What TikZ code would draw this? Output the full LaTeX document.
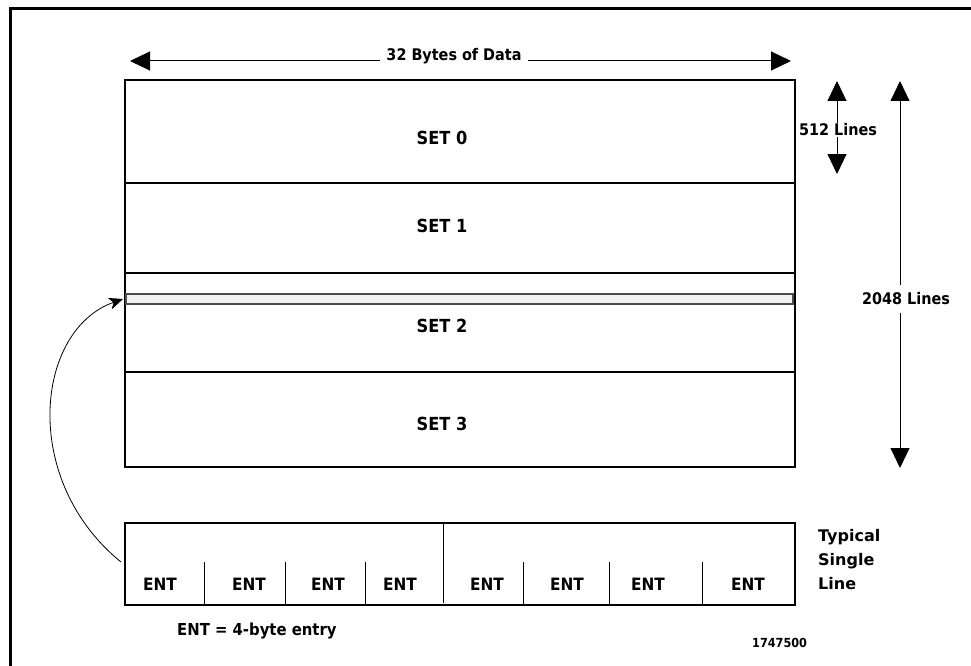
\documentclass[tikz,border=0pt]{standalone}
\usepackage{fontspec}
\setmainfont{DejaVu Sans Condensed}
\newfontfamily\widefont{DejaVu Sans}
\usetikzlibrary{arrows.meta}
\begin{document}
\begin{tikzpicture}[x=1pt,y=-1pt,
  lbl/.style={font=\bfseries\fontsize{16}{19}\selectfont, inner sep=1pt},
  setlbl/.style={font=\bfseries\fontsize{18}{21}\selectfont, inner sep=1pt},
  entlbl/.style={font=\bfseries\fontsize{17}{20}\selectfont, inner sep=1pt},
  dimline/.style={line width=1pt, {Triangle[width=19pt,length=20pt]}-{Triangle[width=19pt,length=20pt]}},
  thick box/.style={line width=2.4pt},
  divider/.style={line width=1.8pt},
  entsep/.style={line width=0.8pt}]
\useasboundingbox (0,0) rectangle (971,666);
% page frame, open towards the right and bottom edges
\begin{scope}
  \clip (0,0) rectangle (971,666);
  \draw[line width=3pt] (10,680) -- (10,9) -- (990,9);
\end{scope}

% cache array with its four sets
\coordinate (cTL) at (125,80);
\coordinate (cBR) at (795,467);
\draw[thick box] (cTL) rectangle (cBR);
\draw[divider] (125,183) -- (795,183);
\draw[divider] (125,273) -- (795,273);
\draw[divider] (125,372) -- (795,372);
\node[setlbl] (set0) at (442,138) {SET 0};
\node[setlbl] (set1) at (442,226) {SET 1};
\node[setlbl] (set2) at (442,326) {SET 2};
\node[setlbl] (set3) at (442,424) {SET 3};

% one highlighted line inside set 2
\draw[fill=gray!10, draw=black!70, line width=1.4pt] (126,294) rectangle (793,304);
\coordinate (lineL) at (123,299);

% width dimension
\coordinate (wL) at (130,61);
\coordinate (wR) at (791,61);
\draw[dimline] (wL) -- (wR);
\node[lbl, fill=white, inner xsep=6pt] (bytes) at (454,56) {32 Bytes of Data};

% 512 lines dimension
\coordinate (sT) at (837,81);
\coordinate (sB) at (837,174);
\draw[dimline] (sT) -- (sB);
\node[lbl, fill=white, inner xsep=0pt] (l512) at (838,130) {512 Lines};

% 2048 lines dimension
\coordinate (bT) at (900,81);
\coordinate (bB) at (900,468);
\draw[dimline] (bT) -- (bB);
\node[lbl, fill=white, inner xsep=0pt, inner ysep=8pt] (l2048) at (906,299) {2048 Lines};

% a typical single line split into eight entries
\draw[thick box] (125,523) rectangle (795,605);
\draw[entsep] (443,523) -- (443,603);
\foreach \x in {204,285,365,523,609,702}
  \draw[entsep] (\x,562) -- (\x,605);
\foreach \x/\n in {160/e1,249/e2,328/e3,400/e4,487/e5,567/e6,648/e7,748/e8}
  \node[entlbl] (\n) at (\x,584) {ENT};

\node[anchor=north west, align=left, inner sep=0pt, font=\widefont\bfseries\fontsize{16}{24}\selectfont] (typ) at (818,529) {Typical\\Single\\Line};
\node[entlbl, font=\bfseries\fontsize{16.5}{19}\selectfont, anchor=west] (key) at (176,631) {ENT = 4-byte entry};
\node[font=\bfseries\fontsize{12.5}{14}\selectfont, anchor=west, inner sep=0pt] (num) at (752,643) {1747500};

% curved pointer from the side of the entry line up to the cache line
\coordinate (cS) at (121,562);
\draw[line width=0.8pt, -{Stealth[length=14pt,width=12pt,inset=4pt]}] (cS) .. controls (20,480) and (35,330) .. (lineL);
\end{tikzpicture}
\end{document}
